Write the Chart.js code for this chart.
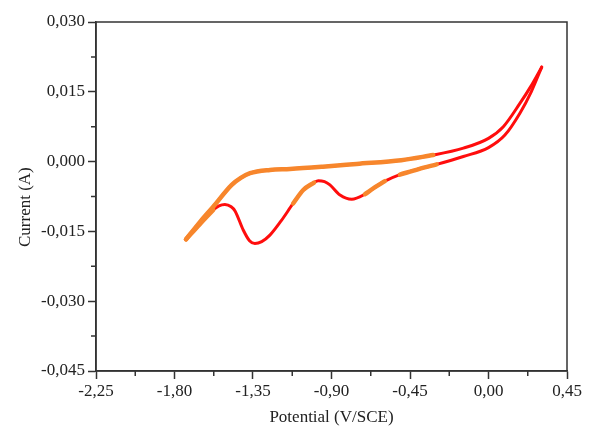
<!DOCTYPE html>
<html>
<head>
<meta charset="utf-8">
<script src="https://cdn.jsdelivr.net/npm/chart.js@4"></script>
<style>
  html, body { margin: 0; padding: 0; background: #fff; }
  #wrap { width: 590px; height: 428px; }
</style>
</head>
<body>
<div id="wrap"><canvas id="cv" width="590" height="428"></canvas></div>
<script>
// Cyclic voltammogram.
// Cathodic sweep: from +0.30 V down to the turning point at -1.73 V
const cathE = [0.305, 0.24, 0.180, 0.085, 0.0, -0.144, -0.317, -0.50, -0.756, -0.95, -1.138, -1.253, -1.367, -1.42, -1.472, -1.578, -1.65, -1.734];
const cathI = [0.0203, 0.0160, 0.0125, 0.0075, 0.0050, 0.0029, 0.0014, 0.0003, -0.0005, -0.0011, -0.0016, -0.0018, -0.0025, -0.0035, -0.0050, -0.0097, -0.0128, -0.0167];

// Return sweep: from -1.73 V back up to +0.30 V
const anodE = [-1.734, -1.656, -1.578, -1.545, -1.511, -1.475, -1.453, -1.406, -1.37, -1.339, -1.30, -1.253, -1.19, -1.12, -1.062, -1.00, -0.976, -0.94, -0.909, -0.851, -0.784, -0.708, -0.65, -0.594, -0.508, -0.40, -0.297, -0.144, 0.0, 0.094, 0.180, 0.245, 0.305];
const anodI = [-0.0167, -0.0135, -0.0104, -0.0095, -0.0092, -0.0097, -0.0106, -0.0147, -0.0170, -0.0176, -0.0172, -0.0158, -0.0128, -0.0090, -0.0061, -0.0045, -0.0041, -0.0043, -0.0050, -0.0072, -0.0081, -0.0070, -0.0055, -0.0042, -0.0028, -0.0016, -0.0006, 0.0011, 0.0030, 0.0057, 0.0104, 0.0150, 0.0203];

// Potential ranges that appear orange in the original trace
const cathOrange = [[-1.734, -0.317]];
const anodOrange = [[-1.734, -1.578], [-1.12, -1.00], [-0.708, -0.594], [-0.508, -0.297]];

// Axis ticks
const xTicks = [-2.25, -1.80, -1.35, -0.90, -0.45, 0.00, 0.45];
const yTicks = [-0.045, -0.030, -0.015, 0.000, 0.015, 0.030];

const RED = '#ff0d0d';
const ORANGE = '#f7862c';
const AXIS = '#333333';
const FONT = 'Liberation Serif';

const toPts = (xs, ys) => xs.map((x, i) => ({ x, y: ys[i] }));

function pick(xs, ys, lo, hi) {
  const out = [];
  xs.forEach((x, i) => { if (x >= lo - 1e-9 && x <= hi + 1e-9) out.push({ x, y: ys[i] }); });
  return out;
}

const baseLine = { showLine: true, pointRadius: 0, fill: false, cubicInterpolationMode: 'monotone', borderCapStyle: 'round', borderJoinStyle: 'round' };

const datasets = [
  { ...baseLine, label: 'cathodic', data: toPts(cathE, cathI), borderColor: RED, borderWidth: 3, order: 2 },
  { ...baseLine, label: 'anodic',   data: toPts(anodE, anodI), borderColor: RED, borderWidth: 3, order: 2 },
];
cathOrange.forEach(([lo, hi]) => datasets.push({ ...baseLine, data: pick(cathE, cathI, lo, hi), borderColor: ORANGE, borderWidth: 4.5, order: 1 }));
anodOrange.forEach(([lo, hi]) => datasets.push({ ...baseLine, data: pick(anodE, anodI, lo, hi), borderColor: ORANGE, borderWidth: 4.5, order: 1 }));

// Frame round the plot plus the short minor ticks between the labelled ones
const framePlugin = {
  id: 'frame',
  afterDraw(chart) {
    const { ctx, chartArea: a, scales: { x, y } } = chart;
    ctx.save();
    ctx.strokeStyle = AXIS;
    ctx.lineWidth = 1.5;
    ctx.strokeRect(a.left, a.top, a.right - a.left, a.bottom - a.top);
    ctx.beginPath();
    for (let i = 0; i < xTicks.length - 1; i++) {
      const px = x.getPixelForValue((xTicks[i] + xTicks[i + 1]) / 2);
      ctx.moveTo(px, a.bottom); ctx.lineTo(px, a.bottom + 5);
    }
    for (let i = 0; i < yTicks.length - 1; i++) {
      const py = y.getPixelForValue((yTicks[i] + yTicks[i + 1]) / 2);
      ctx.moveTo(a.left, py); ctx.lineTo(a.left - 5, py);
    }
    ctx.stroke();
    ctx.restore();
  }
};

new Chart(document.getElementById('cv'), {
  type: 'scatter',
  data: { datasets },
  plugins: [framePlugin],
  options: {
    responsive: false,
    animation: false,
    layout: { padding: { top: 22, right: 23, left: 0, bottom: 0 } },
    plugins: { legend: { display: false }, tooltip: { enabled: false } },
    scales: {
      x: {
        type: 'linear',
        min: xTicks[0], max: xTicks[xTicks.length - 1],
        afterBuildTicks: s => { s.ticks = xTicks.map(v => ({ value: v })); },
        afterFit: s => { s.height = 57; },
        border: { color: AXIS, width: 1.5 },
        grid: { drawOnChartArea: false, tickLength: 8, tickColor: AXIS, tickWidth: 1.5 },
        ticks: {
          color: '#222', padding: 2,
          font: { family: FONT, size: 17 },
          callback: v => v.toFixed(2).replace('.', ',').replace('-0,00', '0,00')
        },
        title: { display: true, text: 'Potential (V/SCE)', color: '#222', font: { family: FONT, size: 17 }, padding: { top: 0, bottom: 0 } }
      },
      y: {
        type: 'linear',
        min: yTicks[0], max: yTicks[yTicks.length - 1],
        afterBuildTicks: s => { s.ticks = yTicks.map(v => ({ value: v })); },
        afterFit: s => { s.width = 96; },
        border: { color: AXIS, width: 1.5 },
        grid: { drawOnChartArea: false, tickLength: 8, tickColor: AXIS, tickWidth: 1.5 },
        ticks: {
          color: '#222', padding: 3,
          font: { family: FONT, size: 17 },
          callback: v => v.toFixed(3).replace('.', ',').replace('-0,000', '0,000')
        },
        // trailing spaces push the rotated title a little lower, as in the original
        title: { display: true, text: 'Current (A)\u00a0\u00a0\u00a0\u00a0\u00a0', color: '#222', font: { family: FONT, size: 17 }, padding: { top: 15, bottom: 0 } }
      }
    }
  }
});
</script>
</body>
</html>
